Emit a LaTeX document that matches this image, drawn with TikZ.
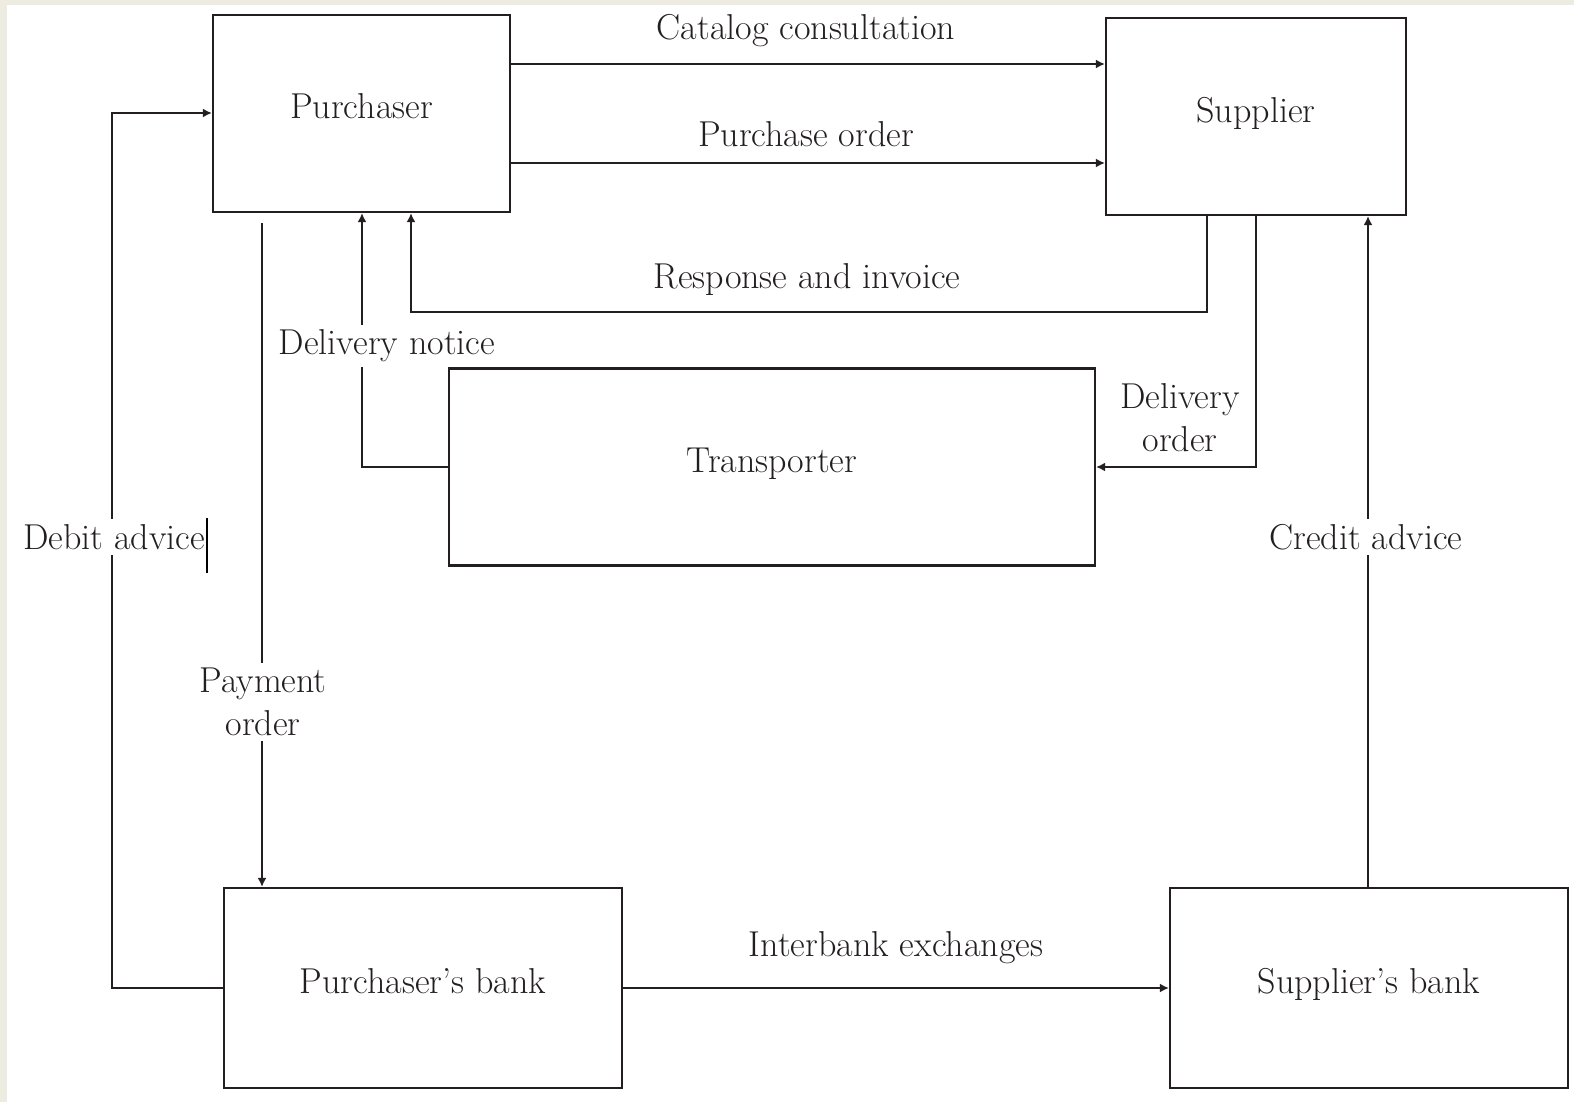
\documentclass[tikz,border=0pt]{standalone}
\usetikzlibrary{arrows.meta}
\definecolor{ink}{HTML}{231F20}
\definecolor{paper}{HTML}{EEEBE0}

\begin{document}
\begin{tikzpicture}[x=0.5pt, y=-0.5pt,
		font=\fontsize{18}{21.5}\selectfont, text=ink,
		box/.style={draw=ink, line width=1.1pt, inner sep=0pt, text depth=7pt, minimum height=98.5pt},
		flow/.style={draw=ink, line width=1.1pt, -{Latex[length=4.5pt, width=4.5pt]}},
		tag/.style={fill=white, inner sep=2.5pt, align=center}]
			\def\W{1574};
			\def\H{1102};

			\useasboundingbox (0,0) rectangle (\W,\H);
			\fill[paper] (0,0) rectangle (\W,\H);
			\fill[white] (7,5) rectangle (\W,\H);

			% parties
			\node[box, minimum width=148.5pt] (pur) at (361.5,113.5) {Purchaser};
			\node[box, minimum width=150pt] (sup) at (1256,116.5) {Supplier};
			\node[box, minimum width=323pt] (tra) at (772,467) {Transporter};
			\node[box, minimum width=199pt, minimum height=100pt] (pbank) at (423,988) {Purchaser's bank};
			\node[box, minimum width=199pt, minimum height=100pt] (sbank) at (1369,988) {Supplier's bank};

			\coordinate (payStart) at (262,223);

			\draw[flow] (pur.east |- 0,64) -- (sup.west |- 0,64);
			\draw[flow] (pur.east |- 0,163) -- (sup.west |- 0,163);
			\draw[flow] (sup.south -| 1207,0) |- (411,312) -- (pur.south -| 411,0);
			\draw[flow] (sup.south -| 1256,0) |- (tra.east);
			\draw[flow] (tra.west) -| (pur.south -| 362,0);
			\draw[flow] (payStart) -- (pbank.north -| payStart);
			\draw[flow] (pbank.west) -| (112,113) -- (pur.west |- 0,113);
			\draw[flow] (pbank.east) -- (sbank.west);
			\draw[flow] (sbank.north -| 1368,0) -- (sup.south -| 1368,0);

			% labels
			\node (catalog) at (806,31) {Catalog consultation};
			\node (order) at (806,134) {Purchase order};
			\node (invoice) at (807,280) {Response and invoice};
			\node[tag] (notice) at (387,346) {Delivery notice};
			\node[align=center] (delorder) at (1180,418) {Delivery\\order};
			\node[tag] (debit) at (114,537) {Debit advice};
			\node[tag] (credit) at (1366,537) {Credit advice};
			\node[tag] (payment) at (263,702) {Payment\\order};
			\node (interbank) at (896,948) {Interbank exchanges};

			\draw[line width=1pt] (207,518) -- (207,573);
		\end{tikzpicture}
\end{document}
